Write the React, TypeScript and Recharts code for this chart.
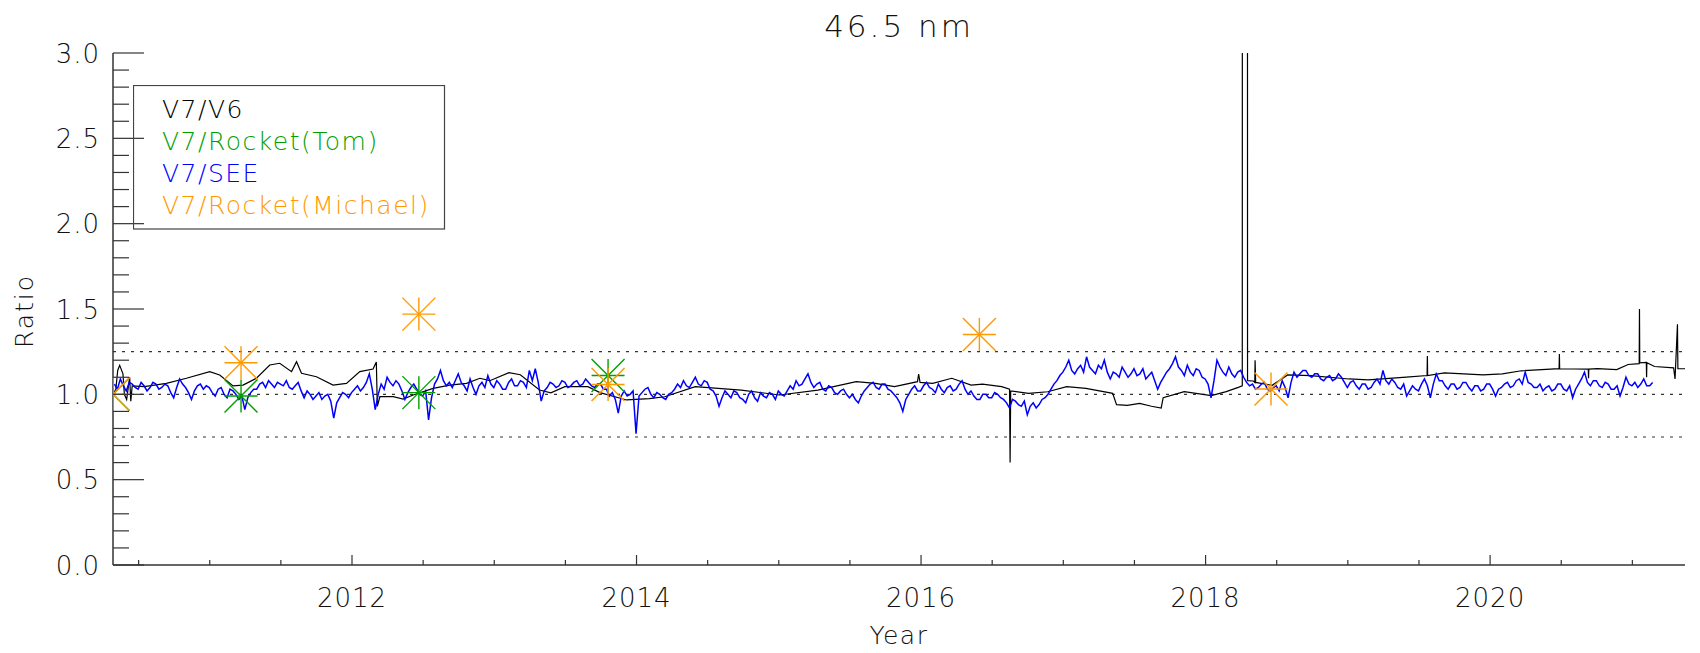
import {
  ComposedChart,
  Line,
  Scatter,
  XAxis,
  YAxis,
  ReferenceLine,
  Legend,
} from "recharts";

// Axis layout
const title = "46.5 nm";
const xDomain: [number, number] = [2010.32, 2021.37];
const xMajorTicks = [2012, 2014, 2016, 2018, 2020];
const xMinorTicks = [
  2010.5, 2011, 2011.5, 2012.5, 2013, 2013.5, 2014.5, 2015, 2015.5, 2016.5,
  2017, 2017.5, 2018.5, 2019, 2019.5, 2020.5, 2021,
];
const yTicks = [
  0, 0.1, 0.2, 0.3, 0.4, 0.5, 0.6, 0.7, 0.8, 0.9, 1.0, 1.1, 1.2, 1.3, 1.4, 1.5,
  1.6, 1.7, 1.8, 1.9, 2.0, 2.1, 2.2, 2.3, 2.4, 2.5, 2.6, 2.7, 2.8, 2.9, 3.0,
];
const yMajorTicks = [0, 0.5, 1, 1.5, 2, 2.5, 3];
const limitLines = [0.75, 1.0, 1.25];

const legendLabels = ["V7/V6", "V7/Rocket(Tom)", "V7/SEE", "V7/Rocket(Michael)"];
const legendColors = ["#000000", "#00a000", "#0000ff", "#ff9900"];

// V7/V6 ratio (black)
const v6Years = [
  2010.32, 2010.34, 2010.353, 2010.367, 2010.39, 2010.4, 2010.416, 2010.437, 2010.445, 2010.455,
  2010.54, 2010.695, 2010.836, 2011.0, 2011.07, 2011.164, 2011.234, 2011.328, 2011.422, 2011.492,
  2011.575, 2011.61, 2011.645, 2011.75, 2011.867, 2011.961, 2012.055, 2012.148, 2012.171, 2012.178,
  2012.196, 2012.29, 2012.359, 2012.43, 2012.57, 2012.688, 2012.805, 2012.899, 2012.969, 2013.103,
  2013.183, 2013.318, 2013.398, 2013.496, 2013.658, 2013.743, 2013.93, 2014.09, 2014.198, 2014.413,
  2014.736, 2015.006, 2015.275, 2015.544, 2015.679, 2015.813, 2015.975, 2015.983, 2015.993, 2016.082,
  2016.216, 2016.352, 2016.432, 2016.567, 2016.622, 2016.626, 2016.63, 2016.755, 2016.89, 2017.024,
  2017.159, 2017.347, 2017.374, 2017.45, 2017.536, 2017.62, 2017.688, 2017.702, 2017.85, 2018.04,
  2018.145, 2018.23, 2018.258, 2018.26, 2018.293, 2018.295, 2018.335, 2018.346, 2018.348, 2018.352,
  2018.468, 2018.577, 2018.739, 2019.008, 2019.144, 2019.411, 2019.557, 2019.559, 2019.561, 2019.679,
  2019.95, 2020.086, 2020.22, 2020.485, 2020.487, 2020.489, 2020.69, 2020.692, 2020.694, 2020.755,
  2020.89, 2020.97, 2021.048, 2021.05, 2021.052, 2021.098, 2021.1, 2021.102, 2021.156, 2021.29,
  2021.3, 2021.317, 2021.32, 2021.37,
];
const v6Ratio = [
  1.0, 1.03, 1.14, 1.17, 1.12, 1.0, 0.97, 1.1, 0.96, 1.05,
  1.045, 1.064, 1.094, 1.133, 1.113, 1.049, 1.054, 1.094, 1.172, 1.182,
  1.133, 1.191, 1.123, 1.103, 1.054, 1.064, 1.133, 1.148, 1.19, 0.93,
  0.986, 0.986, 0.972, 0.996, 1.035, 1.054, 1.064, 1.094, 1.08, 1.127,
  1.115, 1.025, 1.009, 1.045, 1.045, 1.01, 0.967, 0.975, 0.986, 1.045,
  1.025, 0.996, 1.025, 1.074, 1.064, 1.045, 1.074, 1.119, 1.07, 1.064,
  1.094, 1.054, 1.06, 1.045, 1.03, 0.6, 1.02, 1.006, 1.015, 1.045,
  1.035, 1.006, 0.94, 0.935, 0.947, 0.93, 0.92, 0.98, 1.016, 0.992,
  1.016, 1.041, 1.05, 12, 12, 1.08, 1.078, 1.07, 1.2, 1.07,
  1.053, 1.114, 1.11, 1.09, 1.085, 1.101, 1.11, 1.224, 1.11, 1.126,
  1.114, 1.12, 1.138, 1.151, 1.236, 1.15, 1.148, 1.095, 1.148, 1.151,
  1.145, 1.175, 1.18, 1.5, 1.185, 1.187, 1.1, 1.185, 1.163, 1.155,
  1.09, 1.41, 1.15, 1.15,
];

// V7/SEE ratio (blue), one value per ~7.6 days starting 2010.33, one row per year
const seeStart = 2010.33;
const seeStep = 1 / 48;
const seeRatio = [
  [1.06, 1.03, 1.09, 1.05, 1.02, 1.07, 1.06, 1.04, 1.03, 1.07, 1.05, 1.02, 1.04, 1.07, 1.06, 1.03, 1.04, 1.06, 1.05, 1.01, 0.98, 1.04, 1.09, 1.06,
   1.04, 1.01, 0.97, 1.02, 1.05, 1.06, 1.03, 1.05, 1.04, 1.01, 0.99, 1.03, 1.04, 1.0, 0.98, 1.03, 1.02, 1.0, 0.97, 0.99, 0.91, 0.98, 1.01, 1.03],
  [1.03, 1.06, 1.07, 1.04, 1.08, 1.06, 1.04, 1.07, 1.06, 1.05, 1.08, 1.04, 1.03, 1.05, 1.07, 1.02, 0.98, 1.02, 1.0, 0.97, 0.99, 1.01, 0.97, 0.99,
   1.0, 0.96, 0.86, 0.95, 0.98, 1.01, 1.0, 0.98, 1.01, 1.03, 1.05, 1.02, 1.04, 1.07, 1.12, 1.03, 0.91, 1.0, 1.06, 1.03, 1.1, 1.07, 1.05, 1.08],
  [1.06, 1.02, 0.97, 1.01, 1.04, 1.06, 1.03, 1.0, 0.99, 1.02, 0.85, 0.98, 1.06, 1.09, 1.14, 1.08, 1.05, 1.07, 1.04, 1.08, 1.12, 1.07, 1.05, 1.02,
   1.09, 1.04, 1.0, 1.05, 1.07, 1.04, 1.11, 1.06, 1.04, 1.08, 1.06, 1.03, 1.03, 1.07, 1.09, 1.05, 1.05, 1.08, 1.07, 1.04, 1.14, 1.08, 1.15, 1.07],
  [0.96, 1.02, 1.04, 1.07, 1.06, 1.04, 1.05, 1.08, 1.07, 1.04, 1.05, 1.07, 1.08, 1.05, 1.06, 1.09, 1.07, 1.05, 1.04, 1.06, 1.06, 1.03, 1.03, 0.99,
   1.01, 0.97, 0.89, 0.99, 1.02, 0.99, 1.0, 1.02, 0.77, 0.99, 1.01, 1.03, 1.04, 1.0, 0.98, 1.01, 1.0, 0.98, 0.97, 1.0, 1.01, 1.03, 1.06, 1.04],
  [1.08, 1.05, 1.04, 1.07, 1.1, 1.06, 1.05, 1.08, 1.07, 1.03, 1.02, 0.99, 0.93, 0.98, 1.02, 1.0, 0.98, 1.02, 1.01, 0.98, 0.97, 0.95, 1.0, 1.02,
   0.98, 0.96, 1.01, 0.99, 0.98, 1.01, 1.0, 0.97, 1.02, 1.0, 0.99, 1.02, 1.05, 1.03, 1.08, 1.05, 1.06, 1.09, 1.12, 1.07, 1.04, 1.06, 1.07, 1.03],
  [1.02, 1.05, 1.04, 1.01, 1.0, 1.02, 1.03, 1.0, 0.98, 1.0, 0.97, 0.95, 0.99, 1.02, 1.04, 1.06, 1.07, 1.04, 1.03, 1.06, 1.06, 1.03, 1.02, 1.0,
   0.98, 0.95, 0.9, 0.97, 1.0, 1.03, 1.05, 1.02, 1.02, 1.05, 1.07, 1.04, 1.03, 1.01, 1.06, 1.03, 1.01, 1.04, 1.05, 1.02, 1.03, 1.06, 1.08, 1.03],
  [1.0, 1.02, 0.99, 0.97, 0.97, 1.0, 1.0, 0.98, 0.98, 1.01, 1.0, 0.98, 0.97, 0.95, 0.92, 0.97, 0.96, 0.94, 0.93, 0.96, 0.88, 0.93, 0.95, 0.92,
   0.94, 0.97, 0.98, 1.0, 1.03, 1.06, 1.08, 1.11, 1.13, 1.16, 1.2, 1.14, 1.12, 1.15, 1.17, 1.13, 1.22, 1.16, 1.14, 1.12, 1.17, 1.15, 1.2, 1.13],
  [1.09, 1.13, 1.12, 1.1, 1.16, 1.13, 1.1, 1.12, 1.15, 1.11, 1.12, 1.15, 1.09, 1.11, 1.13, 1.08, 1.03, 1.07, 1.1, 1.13, 1.15, 1.18, 1.22, 1.16,
   1.14, 1.11, 1.17, 1.13, 1.11, 1.15, 1.14, 1.1, 1.09, 1.06, 0.98, 1.08, 1.2, 1.16, 1.13, 1.11, 1.16, 1.12, 1.1, 1.13, 1.14, 1.1, 1.07, 1.05],
  [1.06, 1.03, 1.04, 1.06, 1.07, 1.03, 1.02, 1.04, 1.05, 1.02, 1.08, 1.04, 0.98, 1.07, 1.13, 1.1, 1.12, 1.14, 1.14, 1.11, 1.1, 1.12, 1.12, 1.09,
   1.08, 1.1, 1.11, 1.08, 1.09, 1.12, 1.1, 1.07, 1.04, 1.07, 1.08, 1.05, 1.03, 1.06, 1.06, 1.03, 1.04, 1.07, 1.09, 1.06, 1.14, 1.08, 1.06, 1.09],
  [1.07, 1.04, 1.03, 1.06, 0.99, 1.02, 1.05, 1.03, 1.02, 1.06, 1.09, 1.05, 0.98, 1.06, 1.12, 1.08, 1.08, 1.05, 1.03, 1.06, 1.06, 1.03, 1.04, 1.07,
   1.07, 1.04, 1.02, 1.05, 1.05, 1.02, 1.03, 1.06, 1.06, 1.03, 0.99, 1.03, 1.04, 1.06, 1.07, 1.04, 1.05, 1.08, 1.09, 1.06, 1.13, 1.07, 1.06, 1.04],
  [1.04, 1.06, 1.02, 1.04, 1.05, 1.02, 1.03, 1.06, 1.06, 1.03, 1.02, 1.05, 0.98, 1.03, 1.06, 1.09, 1.13, 1.07, 1.05, 1.08,
   1.08, 1.05, 1.04, 1.07, 1.06, 1.03, 1.03, 1.05, 0.99, 1.04, 1.1, 1.06, 1.05, 1.07, 1.04, 1.06, 1.09, 1.05, 1.05, 1.07],
];

// Rocket underflights
const tomYears = [2010.32, 2011.22, 2012.47, 2013.8];
const tomRatio = [1.0, 0.99, 1.01, 1.11];
const michaelYears = [2010.32, 2011.22, 2012.47, 2013.8, 2016.41, 2018.46];
const michaelRatio = [1.0, 1.185, 1.47, 1.058, 1.351, 1.031];

const v6Data = v6Years.map((year, i) => ({ year, value: v6Ratio[i] }));
const seeData = seeRatio.flat().map((value, i) => ({ year: seeStart + i * seeStep, value }));
const tomData = tomYears.map((year, i) => ({ year, value: tomRatio[i] }));
const michaelData = michaelYears.map((year, i) => ({ year, value: michaelRatio[i] }));

const FONT = "'DejaVu Sans', sans-serif";
const TEXT = "#111";
const AXIS = "#333";
const PLOT_LEFT = 113;
const PLOT_RIGHT = 1685;
const PLOT_TOP = 53;
const PLOT_BOTTOM = 565;

const isMajorY = (v: number) => yMajorTicks.some((m) => Math.abs(m - v) < 1e-6);

function BottomTick({ x, payload }: any) {
  const major = xMajorTicks.includes(payload.value);
  return (
    <g>
      <line x1={x} x2={x} y1={PLOT_BOTTOM} y2={PLOT_BOTTOM - (major ? 10 : 5)} stroke={AXIS} strokeWidth={1.2} />
      {major && (
        <text x={x} y={607} textAnchor="middle" fontSize={26} fontWeight={200} fontFamily={FONT} fill={TEXT} letterSpacing={1}>
          {payload.value}
        </text>
      )}
    </g>
  );
}

function TopTick({ x, payload }: any) {
  const major = xMajorTicks.includes(payload.value);
  return <line x1={x} x2={x} y1={PLOT_TOP} y2={PLOT_TOP + (major ? 10 : 5)} stroke={AXIS} strokeWidth={1.2} />;
}

function LeftTick({ y, payload }: any) {
  const major = isMajorY(payload.value);
  return (
    <g>
      <line x1={PLOT_LEFT} x2={PLOT_LEFT + (major ? 31 : 16)} y1={y} y2={y} stroke={AXIS} strokeWidth={1.2} />
      {major && (
        <text x={100} y={y + 9.5} textAnchor="end" fontSize={26} fontWeight={200} fontFamily={FONT} fill={TEXT} letterSpacing={1}>
          {payload.value.toFixed(1)}
        </text>
      )}
    </g>
  );
}

function RightTick({ y, payload }: any) {
  const major = isMajorY(payload.value);
  return <line x1={PLOT_RIGHT} x2={PLOT_RIGHT - (major ? 30 : 15)} y1={y} y2={y} stroke={AXIS} strokeWidth={1.2} />;
}

// IDL-style asterisk: horizontal, vertical and two diagonals to the box corners
const asterisk = (color: string) => (props: any) => {
  const { cx, cy } = props;
  const r = 16.5;
  return (
    <g stroke={color} strokeWidth={1.4}>
      <line x1={cx - r} x2={cx + r} y1={cy} y2={cy} />
      <line x1={cx} x2={cx} y1={cy - r} y2={cy + r} />
      <line x1={cx - r} x2={cx + r} y1={cy - r} y2={cy + r} />
      <line x1={cx - r} x2={cx + r} y1={cy + r} y2={cy - r} />
    </g>
  );
};

function LegendBox() {
  return (
    <svg width={313} height={146}>
      <rect x={0.5} y={0.5} width={311} height={143.5} fill="none" stroke="#444" strokeWidth={1.2} />
      {legendLabels.map((label, i) => (
        <text
          key={label}
          x={29}
          y={32.7 + i * 32}
          fill={legendColors[i]}
          fontSize={25}
          fontWeight={200}
          fontFamily={FONT}
          letterSpacing={1.5}
        >
          {label}
        </text>
      ))}
    </svg>
  );
}

export default function App() {
  return (
    <div style={{ position: "absolute", left: 0, top: 0, width: 1700, height: 653, background: "#fff", fontFamily: FONT }}>
      <ComposedChart width={1700} height={653} margin={{ top: 53, right: 15, bottom: 28, left: 0 }}>
        <XAxis
          xAxisId="b"
          type="number"
          dataKey="year"
          domain={xDomain}
          allowDataOverflow
          ticks={[...xMinorTicks, ...xMajorTicks]}
          interval={0}
          tick={BottomTick}
          tickLine={false}
          axisLine={{ stroke: AXIS, strokeWidth: 1.5 }}
          height={60}
        />
        <XAxis
          xAxisId="t"
          orientation="top"
          type="number"
          dataKey="year"
          domain={xDomain}
          allowDataOverflow
          ticks={[...xMinorTicks, ...xMajorTicks]}
          interval={0}
          tick={TopTick}
          tickLine={false}
          axisLine={{ stroke: "#555", strokeWidth: 1.2 }}
          height={0}
        />
        <YAxis
          yAxisId="l"
          type="number"
          dataKey="value"
          domain={[0, 3]}
          allowDataOverflow
          ticks={yTicks}
          interval={0}
          tick={LeftTick}
          tickLine={false}
          axisLine={{ stroke: AXIS, strokeWidth: 1.5 }}
          width={113}
        />
        <YAxis
          yAxisId="r"
          orientation="right"
          type="number"
          dataKey="value"
          domain={[0, 3]}
          allowDataOverflow
          ticks={yTicks}
          interval={0}
          tick={RightTick}
          tickLine={false}
          axisLine={{ stroke: AXIS, strokeWidth: 1.2 }}
          width={0}
        />
        {limitLines.map((v) => (
          <ReferenceLine key={v} xAxisId="b" yAxisId="l" y={v} stroke="#333" strokeDasharray="3 6" strokeWidth={1.2} />
        ))}
        <Line
          xAxisId="b"
          yAxisId="l"
          data={v6Data}
          dataKey="value"
          type="linear"
          stroke="#000"
          strokeWidth={1.2}
          dot={false}
          isAnimationActive={false}
        />
        <Scatter xAxisId="b" yAxisId="l" data={tomData} shape={asterisk("#00a000")} isAnimationActive={false} />
        <Line
          xAxisId="b"
          yAxisId="l"
          data={seeData}
          dataKey="value"
          type="linear"
          stroke="#0000ff"
          strokeWidth={1.5}
          dot={false}
          isAnimationActive={false}
        />
        <Scatter xAxisId="b" yAxisId="l" data={michaelData} shape={asterisk("#ff9900")} isAnimationActive={false} />
        <Legend
          layout="vertical"
          align="center"
          verticalAlign="middle"
          wrapperStyle={{ left: 133, top: 85, width: 313, height: 146 }}
          content={() => <LegendBox />}
        />
      </ComposedChart>
      <svg width={1700} height={653} style={{ position: "absolute", left: 0, top: 0, pointerEvents: "none" }}>
        <text x={899} y={37} textAnchor="middle" fontSize={31} fontWeight={200} fontFamily={FONT} fill={TEXT} letterSpacing={3}>
          {title}
        </text>
        <text x={899} y={644} textAnchor="middle" fontSize={25} fontWeight={200} fontFamily={FONT} fill={TEXT} letterSpacing={1.5}>
          Year
        </text>
        <text
          x={33}
          y={311}
          textAnchor="middle"
          transform="rotate(-90 33 311)"
          fontSize={25}
          fontWeight={200}
          fontFamily={FONT}
          fill={TEXT}
          letterSpacing={2}
        >
          Ratio
        </text>
      </svg>
    </div>
  );
}
